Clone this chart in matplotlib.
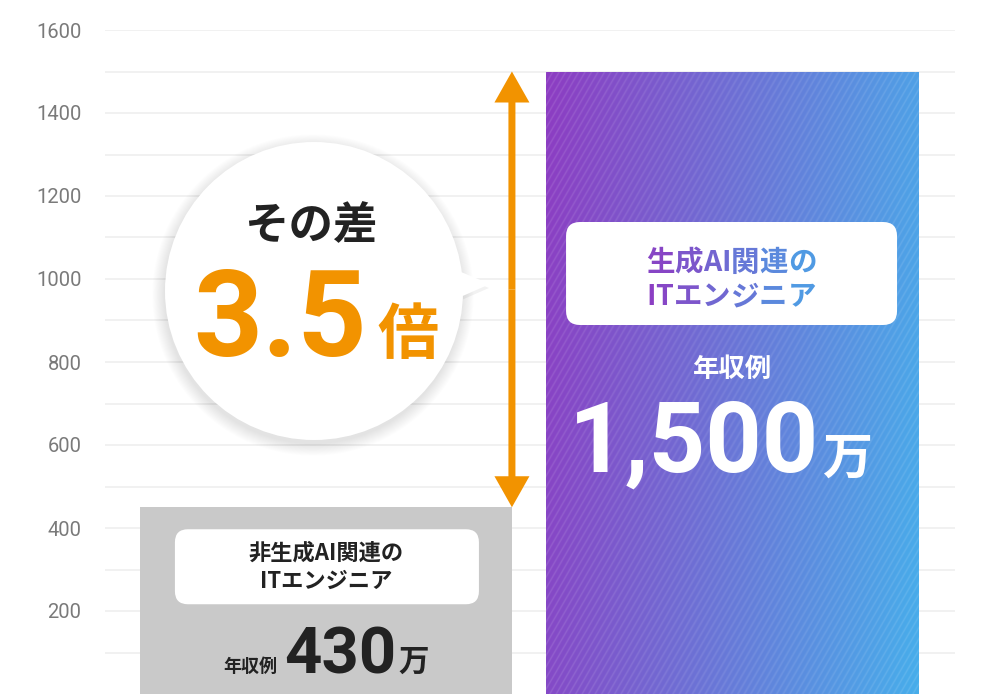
import numpy as np
import matplotlib.pyplot as plt
from matplotlib.patches import Circle, Polygon, FancyBboxPatch
from matplotlib.colors import to_rgb

plt.rcParams['font.family'] = ['Noto Sans CJK JP', 'DejaVu Sans']

# Data
group_names = ['非生成AI関連の\nITエンジニア', '生成AI関連の\nITエンジニア']
bar_heights = [450, 1500]          # heights as drawn in the picture
salary_texts = ['430', '1,500']
salary_unit = '万'
salary_caption = '年収例'
ratio_text = '3.5'
ratio_unit = '倍'
ratio_caption = 'その差'
y_major = [200, 400, 600, 800, 1000, 1200, 1400, 1600]
y_minor = [100, 300, 500, 700, 900, 1100, 1300, 1500]

# Colours
orange = '#F29300'
gray_bar = '#C9C9C9'
purple = '#8D3CC2'
blue = '#47AEEB'
ink = '#222222'

W, H = 990, 694
fig = plt.figure(figsize=(W / 100, H / 100), dpi=100)
ax = fig.add_axes([105 / W, 0, 850 / W, (H - 30) / H])

bar_w = 0.916
xpos = [0, 1]
xlim = (-0.544, 1.549)
ax.set_xlim(*xlim)
ax.set_ylim(0, 1600)

# grid
ax.set_yticks(y_major)
ax.set_yticks(y_minor, minor=True)
ax.set_xticks([])
ax.grid(True, which='both', axis='y', color='#EDEDED', lw=1.1)
ax.set_axisbelow(True)
for s in ax.spines.values():
    s.set_visible(False)
ax.tick_params(axis='y', which='both', length=0, pad=17, labelsize=14.5,
               labelcolor='#7A7A7A')
for lbl in ax.get_yticklabels():
    lbl.set_fontfamily('Roboto')

# Bars
bars = ax.bar(xpos, bar_heights, width=bar_w, color=[gray_bar, 'none'],
              lw=0, zorder=2)


def to_px(x, y):
    d = ax.transData.transform((x, y))
    return d[0], H - d[1]


# gradient + stripes for the second bar
x0, y_top = to_px(xpos[1] - bar_w / 2, bar_heights[1])
x1, y_bot = to_px(xpos[1] + bar_w / 2, 0)
nx, ny = int(round(x1 - x0)), int(round(y_bot - y_top))
X, Y = np.meshgrid(np.arange(nx), np.arange(ny))
t = np.clip(0.88 * X / nx + 0.12 * Y / ny, 0, 1)[..., None]
img = (1 - t) * np.array(to_rgb(purple)) + t * np.array(to_rgb(blue))
theta = np.radians(60)
phase = X * np.sin(theta) + Y * np.cos(theta)
stripe = (0.5 + 0.5 * np.cos(2 * np.pi * phase / 5.6)) ** 4
img = img + (1 - img) * 0.11 * stripe[..., None]
im = ax.imshow(img, extent=(xpos[1] - bar_w / 2, xpos[1] + bar_w / 2, 0, bar_heights[1]),
               aspect='auto', origin='upper', zorder=2.1, interpolation='bilinear')
im.set_clip_path(bars[1])
ax.set_xlim(*xlim)
ax.set_ylim(0, 1600)

# double arrow between the two bar tops
xa = xpos[0] + bar_w / 2
x_per_px = (xlim[1] - xlim[0]) / 850
y_per_px = 1600 / (H - 30)
mid = (bar_heights[0] + bar_heights[1]) / 2
for end in (bar_heights[1], bar_heights[0]):
    ax.arrow(xa, mid, 0, end - mid, width=7 * x_per_px, head_width=35 * x_per_px,
             head_length=31 * y_per_px, length_includes_head=True,
             color=orange, lw=0, zorder=3)

# overlay in pixel coordinates for the labels
ov = fig.add_axes([0, 0, 1, 1], zorder=5)
ov.set_xlim(0, W)
ov.set_ylim(H, 0)
ov.axis('off')
ov.patch.set_alpha(0)

# speech bubble
cx, cy, r = 314, 291, 149
for k in range(14):
    ov.add_patch(Circle((cx - 1, cy + 4), r + k * 0.9, color='black',
                        alpha=0.008, lw=0, zorder=1))
tail = [(cx + r - 14, cy - 24), (cx + r + 27, cy - 7), (cx + r - 14, cy + 11)]
ov.add_patch(Polygon([(px - 1, py + 4) for px, py in tail], closed=True,
                     color='black', alpha=0.05, lw=0, zorder=1))
ov.add_patch(Circle((cx, cy), r, color='white', lw=0, zorder=2))
ov.add_patch(Polygon(tail, closed=True, color='white', lw=0, zorder=2))
ov.text(cx - 3, 226, ratio_caption, fontsize=32, fontweight='bold', color=ink,
        ha='center', va='center', zorder=3)
ov.text(367, 356, ratio_text, fontsize=87, fontweight='bold', color=orange,
        family='Roboto', ha='right', va='baseline', zorder=3)
ov.text(377, 354, ratio_unit, fontsize=44, fontweight='bold', color=orange,
        ha='left', va='baseline', zorder=3)

# gray bar labels
gx0, gy_top = to_px(xpos[0] - bar_w / 2, bar_heights[0])
gx1, _ = to_px(xpos[0] + bar_w / 2, 0)
gc = (gx0 + gx1) / 2
ov.add_patch(FancyBboxPatch((gx0 + 35, gy_top + 22), (gx1 - gx0) - 68, 75,
                            boxstyle='round,pad=0,rounding_size=13',
                            fc='white', lw=0, zorder=2))
line1, line2 = group_names[0].split('\n')
ov.text(gc, 553, line1, fontsize=16, fontweight='bold', color=ink,
        ha='center', va='center', zorder=3)
ov.text(gc, 581, line2, fontsize=16, fontweight='bold', color=ink,
        ha='center', va='center', zorder=3)
ov.text(gc - 49, 672, salary_caption, fontsize=13, fontweight='bold', color=ink,
        ha='right', va='baseline', zorder=3)
ov.text(gc + 14, 673, salary_texts[0], fontsize=47, fontweight='bold', color=ink,
        family='Roboto', ha='center', va='baseline', zorder=3)
ov.text(gc + 73, 671, salary_unit, fontsize=22, fontweight='bold', color=ink,
        ha='left', va='baseline', zorder=3)

# purple bar labels
pc = (x0 + x1) / 2
ov.add_patch(FancyBboxPatch((x0 + 20, 222), (x1 - x0) - 41, 103,
                            boxstyle='round,pad=0,rounding_size=14',
                            fc='white', lw=0, zorder=2))

fig.canvas.draw()
renderer = fig.canvas.get_renderer()


def gradient_line(s, xc, yc, size):
    def width(txt):
        tt = ov.text(0, 0, txt, fontsize=size, fontweight='bold')
        w = tt.get_window_extent(renderer).width
        tt.remove()
        return w
    total = width(s)
    left = xc - total / 2
    for i, ch in enumerate(s):
        wi = width(ch)
        xi = left + width(s[:i + 1]) - wi
        f = (xi + wi / 2 - left) / total
        col = (1 - f) * np.array(to_rgb(purple)) + f * np.array(to_rgb('#4AA3E6'))
        ov.text(xi, yc, ch, fontsize=size, fontweight='bold', color=col,
                ha='left', va='center', zorder=3)


p1, p2 = group_names[1].split('\n')
gradient_line(p1, pc - 1, 263, 20.5)
gradient_line(p2, pc - 1, 297, 20.5)

ov.text(pc + 1, 369, salary_caption, fontsize=19, fontweight='bold', color='white',
        ha='center', va='center', zorder=3)
ov.text(819, 472, salary_texts[1], fontsize=71, fontweight='bold', color='white',
        family='Roboto', ha='right', va='baseline', zorder=3)
ov.text(822, 474, salary_unit, fontsize=36, fontweight='bold', color='white',
        ha='left', va='baseline', zorder=3)

fig.savefig('out.png', dpi=100)
